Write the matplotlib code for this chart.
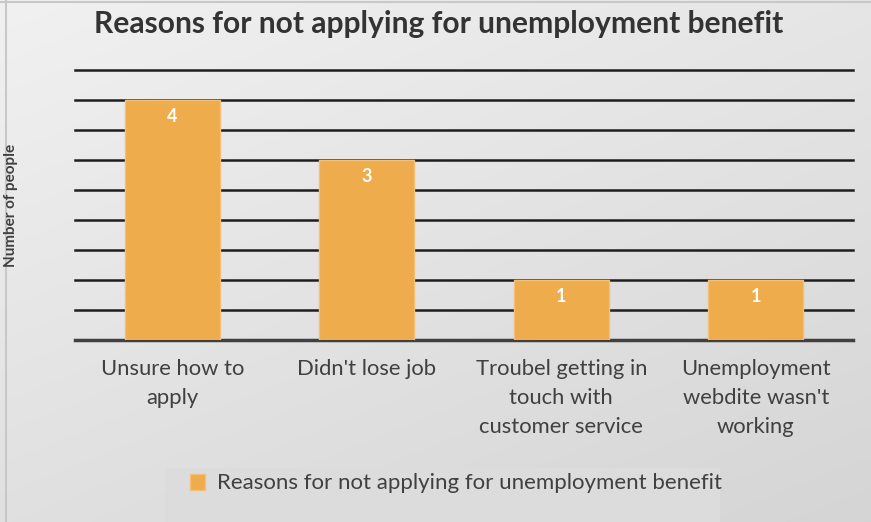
import numpy as np
import matplotlib
matplotlib.use("Agg")
import matplotlib.pyplot as plt
from matplotlib.patches import Rectangle

categories = ["Unsure how to\napply", "Didn't lose job",
              "Troubel getting in\ntouch with\ncustomer service",
              "Unemployment\nwebdite wasn't\nworking"]
values = [4, 3, 1, 1]
series_name = "Reasons for not applying for unemployment benefit"
title = "Reasons for not applying for unemployment benefit"
ylabel = "Number of people"

W, H = 871, 522
fig = plt.figure(figsize=(W / 100, H / 100), dpi=100)
plt.rcParams['font.family'] = ['Lato', 'DejaVu Sans']

# background gradient
bg = fig.add_axes([0, 0, 1, 1], zorder=-10)
yy, xx = np.mgrid[0:1:200j, 0:1:200j]
g = 0.945 - 0.11 * (0.6 * yy + 0.4 * xx)
bg.imshow(np.dstack([g, g, g]), extent=[0, 1, 0, 1], aspect='auto', origin='upper')
bg.set_xlim(0, 1); bg.set_ylim(0, 1)
bg.axis('off')
fig.add_artist(plt.Line2D([0, 1], [1 - 1.5 / H, 1 - 1.5 / H], color='#c8c8c8', lw=1.5))
fig.add_artist(plt.Line2D([6 / W, 6 / W], [0, 1], color='#c8c8c8', lw=1.5))

ax = fig.add_axes([75 / W, 1 - 340 / H, (853 - 75) / W, (340 - 70) / H])
ax.set_facecolor('none')
x = np.arange(len(categories))
bars = ax.bar(x, values, width=0.49, color='#EEAC4C', edgecolor='#F2C078', linewidth=1, zorder=3)
ax.set_xlim(-0.5, len(categories) - 0.5)
ax.set_ylim(0, 4.5)
ax.set_yticks(np.arange(0, 4.51, 0.5))
ax.yaxis.grid(True, color='#1e1e1e', lw=1.8, zorder=0)
for gl in ax.get_ygridlines():
    gl.set_clip_on(False)
ax.set_axisbelow(True)
ax.tick_params(axis='y', length=0, labelleft=False)
ax.tick_params(axis='x', length=0, pad=14)
ax.set_xticks(x)
ax.set_xticklabels(categories, fontsize=15.8, color='#404040', linespacing=1.55, va='top')
for s in ['top', 'right', 'left']:
    ax.spines[s].set_visible(False)
ax.spines['bottom'].set_color('#404040')
ax.spines['bottom'].set_linewidth(2.5)

for b, v in zip(bars, values):
    ax.text(b.get_x() + b.get_width() / 2, v - 0.28, str(v), ha='center', va='center',
            color='white', fontsize=13, fontweight='bold', zorder=4)

fig.text(439 / W, 1 - 24 / H, title, ha='center', va='center', fontsize=21.6,
         fontweight='bold', color='#333333')
fig.text(11 / W, 1 - 205 / H, ylabel, rotation=90, ha='center', va='center',
         fontsize=11, fontweight='bold', color='#404040')

# legend box
fig.add_artist(Rectangle((165 / W, 0), (720 - 165) / W, (522 - 468) / H,
                         transform=fig.transFigure, facecolor='#dcdcdc', edgecolor='none', zorder=1))
fig.add_artist(Rectangle((190 / W, 1 - 490 / H), 15 / W, 16 / H,
                         transform=fig.transFigure, facecolor='#EEAC4C', edgecolor='#F2C078', zorder=2))
fig.text(217 / W, 1 - 483 / H, series_name, ha='left', va='center', fontsize=16,
         color='#404040', zorder=3)

fig.savefig('out.png', dpi=100)
